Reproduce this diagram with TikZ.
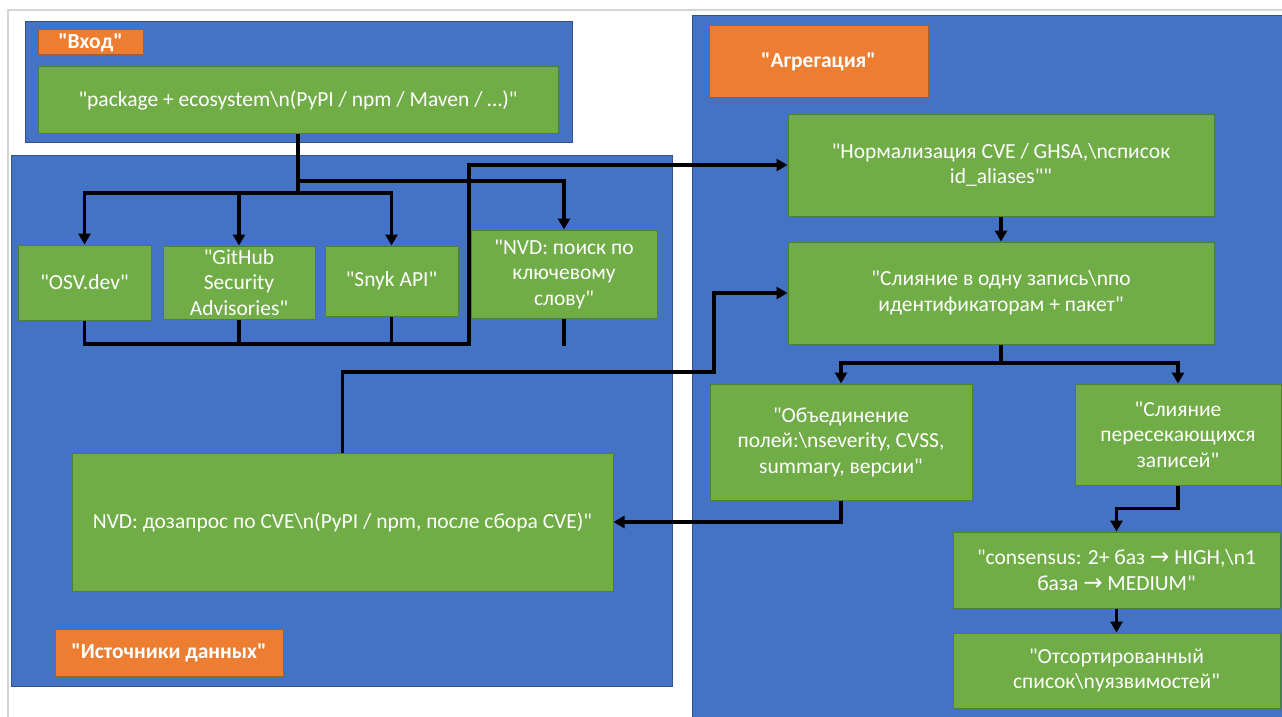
\documentclass[tikz,border=0pt]{standalone}
\usepackage{fontspec}
\setmainfont{Carlito}[Ligatures=TeXOff]
\newfontfamily\symfont{DejaVu Sans}
\usetikzlibrary{arrows.meta}
\definecolor{pblue}{HTML}{4472C4}
\definecolor{pblueb}{HTML}{2F528F}
\definecolor{pgreen}{HTML}{70AD47}
\definecolor{pgreenb}{HTML}{507E32}
\definecolor{porange}{HTML}{ED7D31}
\definecolor{porangeb}{HTML}{AE5A21}
\definecolor{frame}{HTML}{D4D4D4}
\newcommand{\rarr}{{\symfont\fontsize{23}{20}\selectfont →}}
\newcommand{\bsl}{\textbackslash}
\begin{document}
\begin{tikzpicture}[x=1pt,y=-1pt,
  panel/.style={draw=pblueb, fill=pblue, line width=1pt, inner sep=0pt},
  proc/.style={draw=pgreenb, fill=pgreen, line width=1pt, text=white, align=center, inner sep=2pt, font=\fontsize{21.5}{25.5}\selectfont},
  tag/.style={draw=porangeb, fill=porange, line width=1pt, text=white, inner sep=0pt, font=\bfseries\fontsize{21.5}{24}\selectfont},
  wire/.style={line width=3.5pt, black},
  flow/.style={wire, -{Triangle[length=11pt,width=12pt]}},
]
\useasboundingbox[fill=white] (0,0) rectangle (1282,717);
\draw[frame, line width=1.2pt] (8,717) -- (8,10) -- (1282,10);

% panels
\node[panel, minimum width=547pt, minimum height=120pt] (inpanel) at (298.5,82) {};
\node[panel, minimum width=661pt, minimum height=531pt] (srcpanel) at (341.5,420.5) {};
\node[panel, minimum width=600pt, minimum height=712pt] (aggpanel) at (992,372) {};

% tags
\node[tag, minimum width=105pt, minimum height=25pt] (intag) at (90.5,42.5) {"Вход"};
\node[tag, minimum width=228pt, minimum height=47pt] (srctag) at (169,652.5) {"Источники данных"};
\node[tag, minimum width=219pt, minimum height=71pt] (aggtag) at (818.5,61.5) {"Агрегация"};

% input
\node[proc, minimum width=520pt, minimum height=66pt] (pkg) at (298,100) {"package + ecosystem\bsl n(PyPI / npm / Maven / …)"};

% sources
\node[proc, minimum width=133pt, minimum height=75pt] (osv) at (84.5,282.5) {"OSV.dev"};
\node[proc, minimum width=152pt, minimum height=73pt] (gh) at (239,282.5) {"GitHub\\Security\\Advisories"};
\node[proc, minimum width=133pt, minimum height=70pt] (snyk) at (391.5,281) {"Snyk API"};
\node[proc, minimum width=186pt, minimum height=88pt] (nvds) at (564,274) {"NVD: поиск по\\ключевому\\слову"};
\node[proc, minimum width=541pt, minimum height=138pt] (nvdq) at (342.5,522) {NVD: дозапрос по CVE\bsl n(PyPI / npm, после сбора CVE)"};

% aggregation
\node[proc, minimum width=426pt, minimum height=102pt] (norm) at (1001,165) {"Нормализация CVE / GHSA,\bsl nсписок\\id\_aliases""};
\node[proc, minimum width=426pt, minimum height=102pt] (merge) at (1001,293) {"Слияние в одну запись\bsl nпо\\идентификаторам + пакет"};
\node[proc, minimum width=262pt, minimum height=116pt] (union) at (841,442) {"Объединение\\полей:\bsl nseverity, CVSS,\\summary, версии"};
\node[proc, minimum width=206pt, minimum height=101pt] (mergex) at (1178,434.5) {"Слияние\\пересекающихся\\записей"};
\node[proc, minimum width=327pt, minimum height=76pt] (cons) at (1116.5,570) {"consensus: 2+ баз \rarr{} HIGH,\bsl n1\\база \rarr{} MEDIUM"};
\node[proc, minimum width=327pt, minimum height=75pt] (sorted) at (1116.5,670.5) {"Отсортированный\\список\bsl nуязвимостей"};

% junctions
\coordinate (j0) at (298,181);
\coordinate (j1) at (298,193);
\coordinate (c1) at (469,344);
\coordinate (b1) at (714,372);
\coordinate (s1) at (1001,363);
\coordinate (stub) at (564,346);

% connectors
\draw[wire] (pkg.south) -- (j1);
\draw[flow] (j1) -| (osv.north);
\draw[flow] (j1) -| (snyk.north);
\draw[flow] (gh.north |- j1) -- (gh.north);
\draw[flow] (j0) -| (nvds.north);

\draw[wire] (gh.south) -- (gh.south |- c1);
\draw[wire] (snyk.south) -- (snyk.south |- c1);
\draw[flow] (osv.south) |- (c1) |- (norm.west);
\draw[wire] (nvds.south) -- (stub);

\draw[flow] (nvdq.north) |- (b1) |- (merge.west);
\draw[flow] (norm.south) -- (merge.north);
\draw[wire] (merge.south) -- (s1);
\draw[flow] (s1) -| (union.north);
\draw[flow] (s1) -| (mergex.north);
\draw[flow] (union.south) |- (nvdq.east);
\draw[flow] (mergex.south) -- ++(0,23) -| (cons.north);
\draw[flow] (cons.south) -- (sorted.north);
\end{tikzpicture}
\end{document}
